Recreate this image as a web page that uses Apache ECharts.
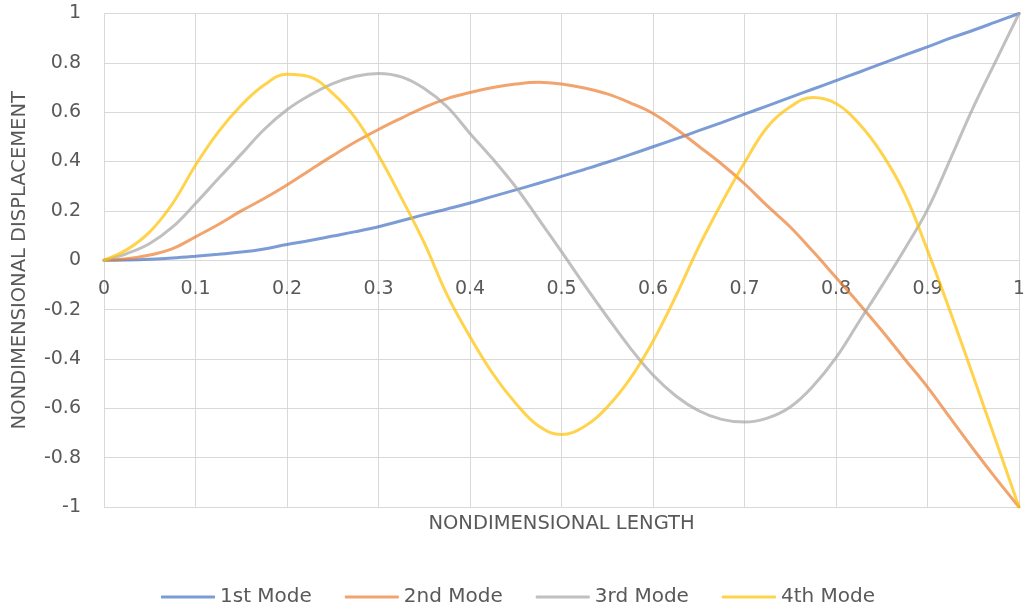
<!DOCTYPE html>
<html>
<head>
<meta charset="utf-8">
<script src="https://cdn.jsdelivr.net/npm/echarts@6/dist/echarts.min.js"></script>
<style>
html,body{margin:0;padding:0;background:#fff;}
#chart{width:1023px;height:608px;}
</style>
</head>
<body>
<div id="chart"></div>
<script>
// Nondimensional length positions (x)
var xs = [0,0.025,0.05,0.075,0.1,0.125,0.15,0.175,0.2,0.225,0.25,0.275,0.3,0.325,0.35,0.375,0.4,0.425,0.45,0.475,0.5,0.525,0.55,0.575,0.6,0.625,0.65,0.675,0.7,0.725,0.75,0.775,0.8,0.825,0.85,0.875,0.9,0.925,0.95,0.975,1];

var seriesNames = ['1st Mode','2nd Mode','3rd Mode','4th Mode'];

var mode1 = [0,0.001,0.004,0.009,0.016,0.024,0.033,0.046,0.064,0.08,0.098,0.116,0.136,0.16,0.185,0.208,0.232,0.259,0.285,0.312,0.34,0.368,0.397,0.428,0.46,0.492,0.525,0.558,0.592,0.626,0.66,0.694,0.728,0.762,0.797,0.831,0.865,0.9,0.932,0.966,1];

var mode2 = [0,0.006,0.021,0.047,0.095,0.145,0.2,0.25,0.305,0.365,0.424,0.48,0.53,0.576,0.62,0.655,0.68,0.7,0.714,0.721,0.714,0.698,0.674,0.638,0.595,0.533,0.462,0.39,0.31,0.22,0.135,0.035,-0.07,-0.175,-0.285,-0.4,-0.514,-0.64,-0.765,-0.885,-1];

var mode3 = [0,0.027,0.068,0.135,0.23,0.331,0.43,0.53,0.61,0.669,0.716,0.746,0.757,0.743,0.696,0.622,0.514,0.41,0.297,0.167,0.035,-0.1,-0.23,-0.355,-0.465,-0.55,-0.61,-0.645,-0.656,-0.64,-0.595,-0.51,-0.395,-0.25,-0.105,0.045,0.205,0.41,0.62,0.81,1];

var mode4 = [0,0.043,0.115,0.23,0.385,0.52,0.628,0.71,0.754,0.743,0.676,0.575,0.426,0.253,0.07,-0.14,-0.31,-0.46,-0.58,-0.672,-0.706,-0.674,-0.595,-0.48,-0.328,-0.145,0.054,0.232,0.395,0.54,0.622,0.66,0.635,0.554,0.433,0.27,0.04,-0.21,-0.47,-0.735,-1];

var colors = ['#4472C4','#ED7D31','#A5A5A5','#FFC000'];
var legendColors = ['#7C9CD6','#F2A46E','#C0C0C0','#FFD34D'];
var modes = [mode1, mode2, mode3, mode4];

function pairs(ys){
  var out = [];
  for (var i = 0; i < xs.length; i++) out.push([xs[i], ys[i]]);
  return out;
}

var font = 'DejaVu Sans';
var textColor = '#595959';
var gridColor = '#D9D9D9';

var gridTop = 13.5, gridBottom = 101, chartH = 608;
var plotH = chartH - gridTop - gridBottom;
var zeroOffset = plotH / 2; // distance from bottom edge up to y = 0

var chart = echarts.init(document.getElementById('chart'), null, {renderer:'canvas'});
var series = modes.map(function(m, i){
  return {
    name: seriesNames[i],
    type: 'line',
    data: pairs(m),
    smooth: 0.4,
    symbol: 'none',
    showSymbol: false,
    lineStyle: {color: colors[i], width: 3, opacity: 0.7, cap: 'round'},
    itemStyle: {color: legendColors[i]},
    emphasis: {disabled: true}
  };
});

chart.setOption({
  animation: false,
  color: colors,
  grid: {left: 104, right: 4, top: gridTop, bottom: gridBottom, outerBoundsMode: 'none', containLabel: false},
  legend: {
    data: seriesNames,
    left: 156,
    top: 582,
    icon: 'roundRect',
    itemWidth: 54,
    itemHeight: 3,
    itemGap: 33,
    textStyle: {fontFamily: font, fontSize: 20, color: textColor}
  },
  xAxis: {
    type: 'value',
    min: 0, max: 1, interval: 0.1,
    name: 'NONDIMENSIONAL LENGTH',
    nameLocation: 'middle',
    nameGap: 7,
    nameTextStyle: {fontFamily: font, fontSize: 19.5, color: textColor},
    axisLine: {show: false, onZero: false},
    axisTick: {show: false},
    axisLabel: {fontFamily: font, fontSize: 19, color: textColor, margin: 19 - zeroOffset},
    splitLine: {show: true, lineStyle: {color: gridColor, width: 1}}
  },
  yAxis: {
    type: 'value',
    min: -1, max: 1, interval: 0.2,
    name: 'NONDIMENSIONAL DISPLACEMENT',
    nameLocation: 'middle',
    nameGap: 74,
    nameTextStyle: {fontFamily: font, fontSize: 19.5, color: textColor},
    axisLine: {show: false, onZero: false},
    axisTick: {show: false},
    axisLabel: {fontFamily: font, fontSize: 19, color: textColor, margin: 23},
    splitLine: {show: true, lineStyle: {color: gridColor, width: 1}}
  },
  series: series
});
</script>
</body>
</html>
